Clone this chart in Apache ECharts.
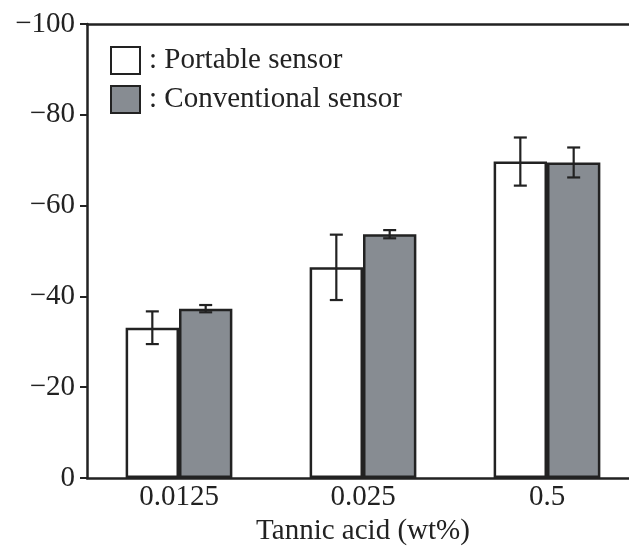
<!DOCTYPE html>
<html><head><meta charset="utf-8">
<script src="https://cdn.jsdelivr.net/npm/echarts@6/dist/echarts.min.js"></script>
<style>html,body{margin:0;padding:0;background:#fff}#c{width:629px;height:551px}</style>
</head><body><div id="c"></div>
<script>
var categories = ['0.0125', '0.025', '0.5'];
var seriesNames = ['Portable sensor', 'Conventional sensor'];
var portable = [-33.1, -46.4, -69.7];
var portableErr = [3.6, 7.2, 5.3];
var conventional = [-37.3, -53.7, -69.5];
var conventionalErr = [0.8, 0.9, 3.3];
var yTicks = [-100, -80, -60, -40, -20, 0];
var xName = 'Tannic acid (wt%)';

var GAP = 0.42;
var FONT = '"Liberation Serif", "Times New Roman", serif';
var INK = '#222';
var FS = 29;

function errData(vals, errs) {
  return vals.map(function (v, i) { return [i, v - errs[i], v + errs[i]]; });
}
function errSeries(vals, errs, side) {
  return {
    type: 'custom', z: 5, silent: true,
    data: errData(vals, errs),
    encode: { x: 0, y: [1, 2] },
    renderItem: function (params, api) {
      var band = api.size([1, 0])[0];
      var bw = band * (1 - GAP) / 2;
      var off = side * bw / 2;
      var p1 = api.coord([api.value(0), api.value(1)]);
      var p2 = api.coord([api.value(0), api.value(2)]);
      var x = p1[0] + off, cap = 6.5;
      var st = { stroke: INK, lineWidth: 2.2 };
      return { type: 'group', children: [
        { type: 'line', shape: { x1: x, y1: p1[1], x2: x, y2: p2[1] }, style: st },
        { type: 'line', shape: { x1: x - cap, y1: p1[1], x2: x + cap, y2: p1[1] }, style: st },
        { type: 'line', shape: { x1: x - cap, y1: p2[1], x2: x + cap, y2: p2[1] }, style: st }
      ]};
    }
  };
}

var chart = echarts.init(document.getElementById('c'));
chart.setOption({
  animation: false,
  backgroundColor: '#fff',
  grid: { left: 87, top: 24, width: 552, height: 454, outerBoundsMode: 'none', containLabel: false },
  legend: {
    orient: 'vertical', left: 110, top: 46, padding: 0, itemWidth: 29, itemHeight: 27, itemGap: 10,
    icon: 'rect', data: seriesNames,
    formatter: function (n) { return ': ' + n; },
    textStyle: { fontFamily: FONT, fontSize: FS, color: INK, padding: [0, 0, 0, 4] }
  },
  xAxis: [{
    type: 'category', data: categories,
    axisLine: { lineStyle: { color: INK, width: 2.5 } },
    axisTick: { show: false },
    axisLabel: { fontFamily: FONT, fontSize: FS, color: INK, margin: 5 },
    name: xName, nameLocation: 'middle', nameGap: 39,
    nameTextStyle: { fontFamily: FONT, fontSize: FS, color: INK }
  }, {
    type: 'category', data: categories, position: 'top',
    axisLine: { show: true, lineStyle: { color: INK, width: 2.5 } },
    axisTick: { show: false }, axisLabel: { show: false }
  }],
  yAxis: {
    type: 'value', min: yTicks[0], max: yTicks[yTicks.length - 1], interval: 20, inverse: true,
    splitLine: { show: false },
    axisLine: { show: true, lineStyle: { color: INK, width: 2.5 } },
    axisTick: { show: true, length: 7, lineStyle: { color: INK, width: 2 } },
    axisLabel: { fontFamily: FONT, fontSize: FS, color: INK, margin: 12,
      formatter: function (v) { return v === 0 ? '0' : '\u2212' + Math.abs(v); } }
  },
  series: [
    { name: seriesNames[0], type: 'bar', data: portable, barGap: '0%', barCategoryGap: (GAP * 100) + '%',
      itemStyle: { color: '#ffffff', borderColor: INK, borderWidth: 2.5 } },
    { name: seriesNames[1], type: 'bar', data: conventional,
      itemStyle: { color: '#878c92', borderColor: INK, borderWidth: 2.5 } },
    errSeries(portable, portableErr, -1),
    errSeries(conventional, conventionalErr, 1)
  ]
});
</script></body></html>
